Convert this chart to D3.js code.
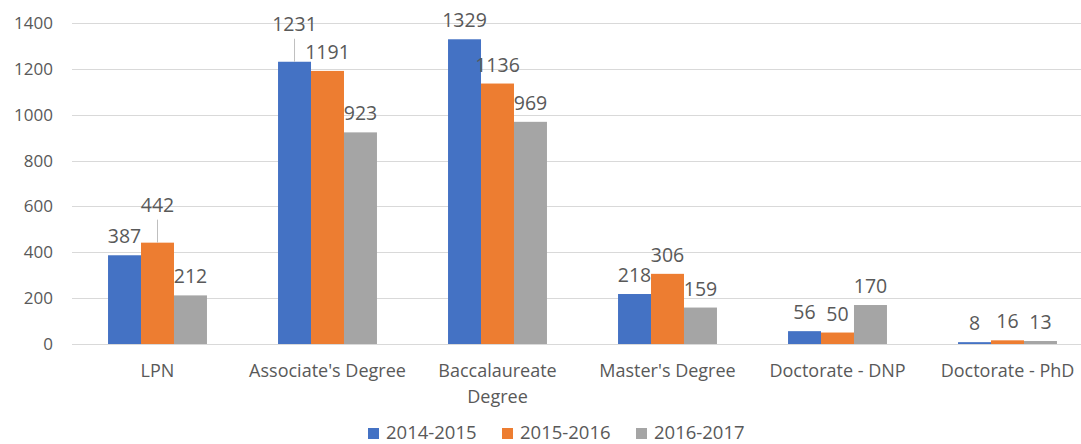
<!DOCTYPE html>
<html>
<head>
<meta charset="utf-8">
<script src="https://cdn.jsdelivr.net/npm/d3@7"></script>
<style>
  body { margin: 0; background: #fff; }
  text { font-family: "Open Sans", sans-serif; fill: #595959; }
</style>
</head>
<body>
<script>
var categories = ["LPN", "Associate's Degree", "Baccalaureate Degree", "Master's Degree", "Doctorate - DNP", "Doctorate - PhD"];
var seriesNames = ["2014-2015", "2015-2016", "2016-2017"];
var values2014 = [387, 1231, 1329, 218, 56, 8];
var values2015 = [442, 1191, 1136, 306, 50, 16];
var values2016 = [212, 923, 969, 159, 170, 13];
var yTicks = [0, 200, 400, 600, 800, 1000, 1200, 1400];
var colors = ["#4472C4", "#ED7D31", "#A5A5A5"];

var width = 1081, height = 444;
var allValues = [values2014, values2015, values2016];

var svg = d3.select("body").append("svg")
    .attr("width", width)
    .attr("height", height);

var x0 = d3.scaleBand().domain(categories).range([72.5, 1092.5])
    .paddingInner(0.418).paddingOuter(0.209);
var x1 = d3.scaleBand().domain(seriesNames).range([0, x0.bandwidth()]).padding(0);
var y = d3.scaleLinear().domain([0, 1400]).range([344, 23]);

// gridlines
svg.append("g").selectAll("line")
    .data(yTicks)
    .enter().append("line")
    .attr("x1", 72).attr("x2", width)
    .attr("y1", function(d) { return Math.round(y(d)) + 0.5; })
    .attr("y2", function(d) { return Math.round(y(d)) + 0.5; })
    .attr("stroke", "#d9d9d9")
    .attr("stroke-width", 1);

// y axis labels
var yAxis = svg.append("g")
    .attr("transform", "translate(72,0)")
    .call(d3.axisLeft(y).tickValues(yTicks).tickFormat(d3.format("d")).tickSize(0).tickPadding(19));
yAxis.select(".domain").remove();
yAxis.selectAll("text")
    .attr("font-family", "Open Sans")
    .style("font-size", "17px")
    .style("fill", "#595959");

// bars
var groups = svg.append("g").selectAll("g")
    .data(categories)
    .enter().append("g")
    .attr("transform", function(d) { return "translate(" + x0(d) + ",0)"; });

groups.selectAll("rect")
    .data(function(d, i) {
        return seriesNames.map(function(s, j) { return { cat: d, s: s, j: j, v: allValues[j][i] }; });
    })
    .enter().append("rect")
    .attr("x", function(d) { return x1(d.s); })
    .attr("y", function(d) { return y(d.v); })
    .attr("width", x1.bandwidth())
    .attr("height", function(d) { return y(0) - y(d.v); })
    .attr("fill", function(d) { return colors[d.j]; });

// data labels, lift the taller one when two neighbours collide
var labelLayer = svg.append("g");
categories.forEach(function(cat, i) {
    var labs = seriesNames.map(function(s, j) {
        var cx = x0(cat) + x1(s) + x1.bandwidth() / 2;
        var top = y(allValues[j][i]);
        var t = labelLayer.append("text")
            .attr("x", cx)
            .attr("y", top - 12)
            .attr("text-anchor", "middle")
            .style("font-size", "19.5px")
            .text(allValues[j][i]);
        var w = t.node().getComputedTextLength();
        return { t: t, cx: cx, top: top, base: top - 12, w: w, v: allValues[j][i] };
    });
    for (var j = 1; j < labs.length; j++) {
        var a = labs[j - 1], b = labs[j];
        var hOver = (a.cx + a.w / 2 + 2) > (b.cx - b.w / 2);
        var vOver = Math.abs(a.base - b.base) < 16;
        if (hOver && vOver) {
            var hi = a.v > b.v ? a : b;
            hi.base -= 19;
            hi.t.attr("y", hi.base);
            labelLayer.append("line")
                .attr("x1", hi.cx).attr("x2", hi.cx)
                .attr("y1", hi.top).attr("y2", hi.base + 8)
                .attr("stroke", "#bfbfbf")
                .attr("stroke-width", 1);
        }
    }
});

// baseline
svg.append("line")
    .attr("x1", 72).attr("x2", width)
    .attr("y1", Math.round(y(0)) + 0.5).attr("y2", Math.round(y(0)) + 0.5)
    .attr("stroke", "#d9d9d9");

// category labels, wrap if wider than the step
svg.append("g").selectAll("text")
    .data(categories)
    .enter().append("text")
    .attr("x", function(d) { return x0(d) + x0.bandwidth() / 2; })
    .attr("y", 377)
    .attr("text-anchor", "middle")
    .style("font-size", "18px")
    .each(function(d) {
        var el = d3.select(this);
        el.text(d);
        if (this.getComputedTextLength() > x0.step() - 6) {
            var words = d.split(" ");
            el.text(null);
            el.append("tspan").attr("x", el.attr("x")).text(words.slice(0, -1).join(" "));
            el.append("tspan").attr("x", el.attr("x")).attr("dy", 26).text(words[words.length - 1]);
        }
    });

// legend
var legendX = [368, 502, 636];
var legend = svg.append("g").selectAll("g")
    .data(seriesNames)
    .enter().append("g")
    .attr("transform", function(d, i) { return "translate(" + legendX[i] + ",428)"; });
legend.append("rect")
    .attr("width", 11).attr("height", 11)
    .attr("fill", function(d, i) { return colors[i]; });
legend.append("text")
    .attr("x", 18).attr("y", 11)
    .style("font-size", "18.5px")
    .text(function(d) { return d; });
</script>
</body>
</html>
